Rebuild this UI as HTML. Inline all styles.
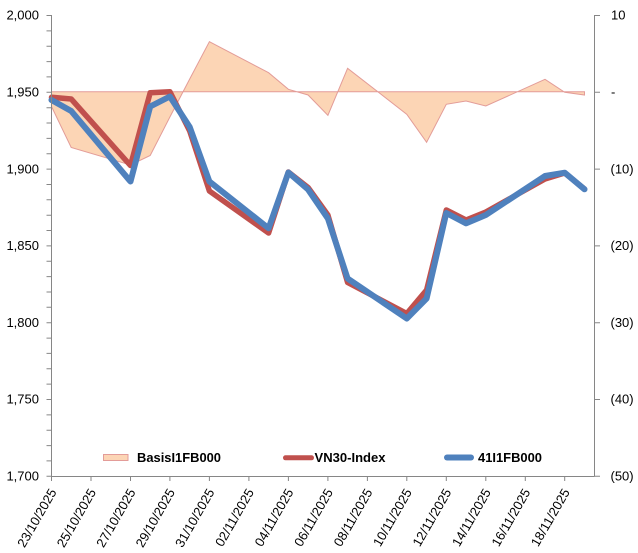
<!DOCTYPE html>
<html>
<head>
<meta charset="utf-8">
<style>
  html,body{margin:0;padding:0;background:#fff;}
  svg{display:block;}
  text{font-family:"Liberation Sans",Arial,sans-serif;fill:#000;}
</style>
</head>
<body>
<svg width="638" height="553" viewBox="0 0 638 553" xmlns="http://www.w3.org/2000/svg">
  <!-- Basis area -->
  <polygon fill="#FCD5B5" stroke="#E39C98" stroke-width="1" stroke-linejoin="miter"
    points="51.5,91.8 51.5,106.5 71.2,147.5 130.5,165 150.2,155.5 169.9,117 189.7,79 209.4,41.7 268.6,72.7 288.4,89.3 308.1,95 327.9,115.3 347.6,68.3 406.8,114.3 426.6,142.3 446.3,104.3 466.0,101 485.8,106 545.0,79.3 564.7,92.3 584.5,95 584.5,91.8"/>

  <!-- VN30-Index (red) -->
  <polyline fill="none" stroke="#C0504D" stroke-width="5.5" stroke-linejoin="round" stroke-linecap="round"
    points="51.5,97.3 71.2,99 130.5,165.5 150.2,92.7 169.9,91.7 189.7,131 209.4,191 268.6,233 288.4,172 308.1,187.5 327.9,215 347.6,282.5 406.8,313.5 426.6,290 446.3,210 466.0,220 485.8,212 545.0,179 564.7,173 584.5,189"/>

  <!-- 41I1FB000 (blue) -->
  <polyline fill="none" stroke="#4F81BD" stroke-width="6" stroke-linejoin="round" stroke-linecap="round"
    points="51.5,100 71.2,111 130.5,181.5 150.2,106.5 169.9,96.5 189.7,127 209.4,181.5 268.6,228.3 288.4,172.5 308.1,189.5 327.9,218.5 347.6,278.5 406.8,318.5 426.6,298.5 446.3,213 466.0,223.3 485.8,215 545.0,176 564.7,172.7 584.5,189.3"/>

  <!-- Axes -->
  <g stroke="#868686" stroke-width="1" fill="none">
    <line x1="51.5" y1="15" x2="51.5" y2="476"/>
    <line x1="594.5" y1="15" x2="594.5" y2="476"/>
    <line x1="51.5" y1="476.5" x2="594.5" y2="476.5"/>
    <!-- left major/minor ticks -->
    <path d="M46.5,15.5H51.5 M46.5,30.9H51.5 M46.5,46.2H51.5 M46.5,61.6H51.5 M46.5,76.9H51.5 M46.5,92.3H51.5 M46.5,107.7H51.5 M46.5,123H51.5 M46.5,138.4H51.5 M46.5,153.7H51.5 M46.5,169.1H51.5 M46.5,184.5H51.5 M46.5,199.8H51.5 M46.5,215.2H51.5 M46.5,230.5H51.5 M46.5,245.9H51.5 M46.5,261.3H51.5 M46.5,276.6H51.5 M46.5,292H51.5 M46.5,307.3H51.5 M46.5,322.7H51.5 M46.5,338.1H51.5 M46.5,353.4H51.5 M46.5,368.8H51.5 M46.5,384.1H51.5 M46.5,399.5H51.5 M46.5,414.9H51.5 M46.5,430.2H51.5 M46.5,445.6H51.5 M46.5,460.9H51.5 M46.5,476.3H51.5"/>
    <!-- right ticks -->
    <path d="M594.5,15.5H600 M594.5,92.3H600 M594.5,169.1H600 M594.5,245.9H600 M594.5,322.7H600 M594.5,399.5H600 M594.5,476.3H600"/>
    <!-- x ticks -->
    <path d="M51.5,476V481 M91,476V481 M130.5,476V481 M169.9,476V481 M209.4,476V481 M248.9,476V481 M288.4,476V481 M327.9,476V481 M367.4,476V481 M406.8,476V481 M446.3,476V481 M485.8,476V481 M525.3,476V481 M564.7,476V481"/>
  </g>

  <!-- Left labels -->
  <g font-size="13" text-anchor="end">
    <text x="39" y="19.7">2,000</text>
    <text x="39" y="96.5">1,950</text>
    <text x="39" y="173.3">1,900</text>
    <text x="39" y="250.1">1,850</text>
    <text x="39" y="326.9">1,800</text>
    <text x="39" y="403.7">1,750</text>
    <text x="39" y="480.5">1,700</text>
  </g>

  <!-- Right labels -->
  <g font-size="13" text-anchor="start">
    <text x="611" y="19.7">10</text>
    <text x="611" y="96.5">-</text>
    <text x="610.5" y="173.3">(10)</text>
    <text x="610.5" y="250.1">(20)</text>
    <text x="610.5" y="326.9">(30)</text>
    <text x="610.5" y="403.7">(40)</text>
    <text x="610.5" y="480.5">(50)</text>
  </g>

  <!-- X labels -->
  <g font-size="13" text-anchor="end">
    <text transform="translate(57,492) rotate(-60)">23/10/2025</text>
    <text transform="translate(96.5,492) rotate(-60)">25/10/2025</text>
    <text transform="translate(136,492) rotate(-60)">27/10/2025</text>
    <text transform="translate(175.4,492) rotate(-60)">29/10/2025</text>
    <text transform="translate(214.9,492) rotate(-60)">31/10/2025</text>
    <text transform="translate(254.4,492) rotate(-60)">02/11/2025</text>
    <text transform="translate(293.9,492) rotate(-60)">04/11/2025</text>
    <text transform="translate(333.4,492) rotate(-60)">06/11/2025</text>
    <text transform="translate(372.9,492) rotate(-60)">08/11/2025</text>
    <text transform="translate(412.3,492) rotate(-60)">10/11/2025</text>
    <text transform="translate(451.8,492) rotate(-60)">12/11/2025</text>
    <text transform="translate(491.3,492) rotate(-60)">14/11/2025</text>
    <text transform="translate(530.8,492) rotate(-60)">16/11/2025</text>
    <text transform="translate(570.2,492) rotate(-60)">18/11/2025</text>
  </g>

  <!-- Legend -->
  <rect x="103.5" y="454.5" width="24.5" height="6" fill="#FCD5B5" stroke="#E39C98" stroke-width="1"/>
  <text x="137" y="462" font-size="13" font-weight="bold" textLength="84" lengthAdjust="spacingAndGlyphs">BasisI1FB000</text>
  <line x1="285.5" y1="457.8" x2="311.5" y2="457.8" stroke="#C0504D" stroke-width="5" stroke-linecap="round"/>
  <text x="314.5" y="462" font-size="13" font-weight="bold" textLength="71" lengthAdjust="spacingAndGlyphs">VN30-Index</text>
  <line x1="447" y1="457.5" x2="471" y2="457.5" stroke="#4F81BD" stroke-width="6" stroke-linecap="round"/>
  <text x="478" y="462" font-size="13" font-weight="bold" textLength="64" lengthAdjust="spacingAndGlyphs">41I1FB000</text>
</svg>
</body>
</html>
